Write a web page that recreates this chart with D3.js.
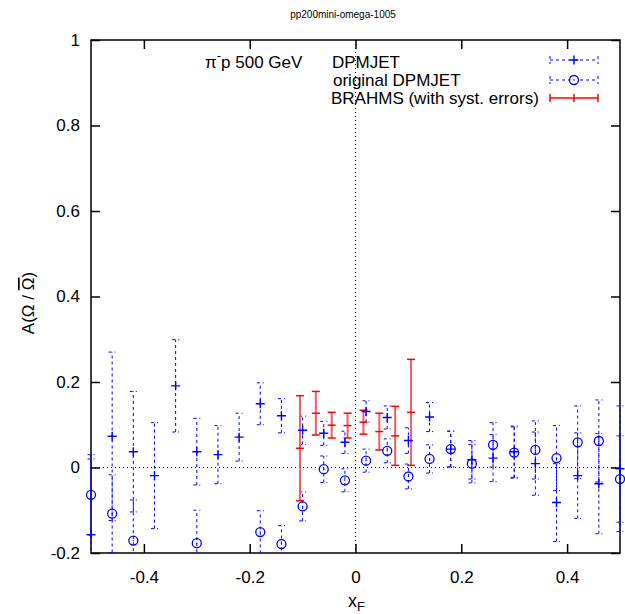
<!DOCTYPE html>
<meta charset="utf-8">
<style>

body { margin: 0; background: #fff; }
svg { font-family: "Liberation Sans", Arial, sans-serif; }

.frame {
  fill: none;
  stroke: #000;
  stroke-width: 1.5px;
}

.zero {
  stroke: #000;
  stroke-width: 1px;
  stroke-dasharray: 1,3;
}

.tick line { stroke: #000; stroke-width: 1.5px; }
.tick text { font-size: 17px; fill: #000; }

.bar-blue {
  stroke: #0000ff;
  stroke-width: 1px;
  stroke-dasharray: 3,3;
  fill: none;
}

.bar-red { stroke: #f06060; stroke-width: 2px; }
.cap-red { stroke: #ff0000; stroke-width: 1.5px; }

</style>
<svg width="625" height="614"></svg>
<script src="https://d3js.org/d3.v7.min.js"></script>
<script>

// DPMJET (crosses)
var dpmX = [-0.50, -0.46, -0.42, -0.38, -0.34, -0.30, -0.26, -0.22, -0.18, -0.14, -0.10, -0.06, -0.02,
            0.02, 0.06, 0.10, 0.14, 0.18, 0.22, 0.26, 0.30, 0.34, 0.38, 0.42, 0.46, 0.50];
var dpmY = [-0.157, 0.073, 0.037, -0.019, 0.191, 0.037, 0.030, 0.071, 0.149, 0.121, 0.087, 0.080, 0.059,
            0.131, 0.117, 0.063, 0.118, 0.043, 0.018, 0.022, 0.037, 0.009, -0.082, -0.019, -0.038, -0.003];
var dpmErr = [0.177, 0.197, 0.141, 0.124, 0.108, 0.078, 0.068, 0.056, 0.049, 0.040, 0.033, 0.028, 0.026,
              0.025, 0.027, 0.030, 0.034, 0.042, 0.045, 0.055, 0.060, 0.074, 0.091, 0.100, 0.117, 0.147];

// original DPMJET (circles)
var origX = [-0.50, -0.46, -0.42, -0.30, -0.18, -0.14, -0.10, -0.06, -0.02,
             0.02, 0.06, 0.10, 0.14, 0.18, 0.22, 0.26, 0.30, 0.34, 0.38, 0.42, 0.46, 0.50];
var origY = [-0.064, -0.108, -0.171, -0.177, -0.151, -0.179, -0.091, -0.004, -0.030,
             0.016, 0.039, -0.021, 0.020, 0.043, 0.009, 0.053, 0.035, 0.041, 0.022, 0.059, 0.062, -0.027];
var origErr = [0.094, 0.091, 0.095, 0.077, 0.050, 0.043, 0.034, 0.031, 0.027,
               0.027, 0.028, 0.029, 0.033, 0.042, 0.045, 0.052, 0.060, 0.068, 0.076, 0.085, 0.096, 0.101];

// BRAHMS (with syst. errors)
var brX = [-0.105, -0.075, -0.045, -0.015, 0.015, 0.045, 0.075, 0.105];
var brY = [0.045, 0.127, 0.099, 0.098, 0.106, 0.084, 0.074, 0.129];
var brErr = [0.123, 0.051, 0.030, 0.029, 0.028, 0.043, 0.069, 0.124];

var xTicks = [-0.4, -0.2, 0, 0.2, 0.4];
var yTicks = [-0.2, 0, 0.2, 0.4, 0.6, 0.8, 1];

var svg = d3.select("svg"),
    pLeft = 91, pRight = 620, pTop = 40, pBottom = 553;

var x = d3.scaleLinear().domain([-0.5, 0.5]).range([pLeft, pRight]);
var y = d3.scaleLinear().domain([-0.2, 1]).range([pBottom, pTop]);

var fmt = function(d) { return String(+d.toFixed(1)); };

svg.append("defs").append("clipPath").attr("id", "clip")
  .append("rect").attr("x", 0).attr("y", pTop).attr("width", 625).attr("height", pBottom - pTop);

// zero lines
svg.append("line").attr("class", "zero")
  .attr("x1", pLeft).attr("x2", pRight).attr("y1", y(0)).attr("y2", y(0));
svg.append("line").attr("class", "zero")
  .attr("x1", x(0)).attr("x2", x(0)).attr("y1", pTop).attr("y2", pBottom);

// axes, ticks pointing inward
svg.append("g").attr("transform", "translate(0," + pBottom + ")")
  .call(d3.axisBottom(x).tickValues(xTicks).tickSize(-9).tickPadding(18).tickFormat(fmt))
  .call(function(g) { g.select(".domain").remove(); });
svg.append("g").attr("transform", "translate(0," + pTop + ")")
  .call(d3.axisTop(x).tickValues(xTicks).tickSize(-9).tickFormat(""))
  .call(function(g) { g.select(".domain").remove(); });
svg.append("g").attr("transform", "translate(" + pLeft + ",0)")
  .call(d3.axisLeft(y).tickValues(yTicks).tickSize(-9).tickPadding(11).tickFormat(fmt))
  .call(function(g) { g.select(".domain").remove(); });
svg.append("g").attr("transform", "translate(" + pRight + ",0)")
  .call(d3.axisRight(y).tickValues(yTicks).tickSize(-9).tickFormat(""))
  .call(function(g) { g.select(".domain").remove(); });

svg.selectAll("g[font-family]").attr("font-family", null).attr("font-size", null);

svg.append("rect").attr("class", "frame")
  .attr("x", pLeft).attr("y", pTop).attr("width", pRight - pLeft).attr("height", pBottom - pTop);

// error bars helper
function errBars(g, xs, ys, es, cls, capCls, cw) {
  var d = xs.map(function(v, i) { return {x: v, y: ys[i], e: es[i]}; });
  var b = g.selectAll(null).data(d).enter().append("g");
  b.append("line").attr("class", cls)
    .attr("x1", function(d) { return x(d.x); }).attr("x2", function(d) { return x(d.x); })
    .attr("y1", function(d) { return y(d.y - d.e); }).attr("y2", function(d) { return y(d.y + d.e); });
  [-1, 1].forEach(function(s) {
    b.append("line").attr("class", capCls)
      .attr("x1", function(d) { return x(d.x) - cw; }).attr("x2", function(d) { return x(d.x) + cw; })
      .attr("y1", function(d) { return y(d.y + s * d.e); }).attr("y2", function(d) { return y(d.y + s * d.e); });
  });
  return d;
}

var bars = svg.append("g").attr("clip-path", "url(#clip)");
var dpm = errBars(bars, dpmX, dpmY, dpmErr, "bar-blue", "bar-blue", 3.5);
var orig = errBars(bars, origX, origY, origErr, "bar-blue", "bar-blue", 3.5);
var br = errBars(bars, brX, brY, brErr, "bar-red", "cap-red", 4);

var cross = "M-4.5,0H4.5M0,-4.5V4.5";

svg.selectAll(".dpm").data(dpm).enter().append("path")
  .attr("class", "dpm")
  .attr("d", cross)
  .attr("transform", function(d) { return "translate(" + x(d.x) + "," + y(d.y) + ")"; })
  .attr("stroke", "#0000ff").attr("stroke-width", 1.4).attr("fill", "none");

var oc = svg.selectAll(".orig").data(orig).enter().append("g")
  .attr("class", "orig")
  .attr("transform", function(d) { return "translate(" + x(d.x) + "," + y(d.y) + ")"; });
oc.append("circle").attr("r", 4.5).attr("fill", "none").attr("stroke", "#0000ff").attr("stroke-width", 1.3);
oc.append("circle").attr("r", 0.7).attr("fill", "#0000ff");

svg.selectAll(".br").data(br).enter().append("path")
  .attr("class", "br")
  .attr("d", "M-4,0H4")
  .attr("transform", function(d) { return "translate(" + x(d.x) + "," + y(d.y) + ")"; })
  .attr("stroke", "#ff0000").attr("stroke-width", 1.5);

// title
svg.append("text").attr("x", 343).attr("y", 18).attr("text-anchor", "middle")
  .attr("font-size", 10).text("pp200mini-omega-1005");

// axis labels
var xl = svg.append("text").attr("x", 348).attr("y", 607).attr("font-size", 18);
xl.append("tspan").text("x");
xl.append("tspan").attr("font-size", 13).attr("dy", 4).text("F");

var yl = svg.append("text").attr("transform", "translate(34,303) rotate(-90)")
  .attr("text-anchor", "middle").attr("font-size", 17);
yl.append("tspan").text("A(Ω / ");
yl.append("tspan").attr("text-decoration", "overline").text("Ω");
yl.append("tspan").text(")");

// legend
var pi = svg.append("text").attr("x", 205).attr("y", 68).attr("font-size", 17);
pi.append("tspan").text("π");
pi.append("tspan").attr("dy", -8).attr("font-size", 13).text("-");
pi.append("tspan").attr("dy", 8).text("p 500 GeV");

var legend = [
  {label: "DPMJET", tx: 332, ty: 68, ly: 60, kind: "cross"},
  {label: "original DPMJET", tx: 333, ty: 86, ly: 80, kind: "circle"},
  {label: "BRAHMS (with syst. errors)", tx: 331, ty: 104, ly: 98, kind: "red"}
];

legend.forEach(function(l) {
  svg.append("text").attr("x", l.tx).attr("y", l.ty).attr("font-size", 17).text(l.label);
  var g = svg.append("g");
  var lineCls = l.kind === "red" ? "cap-red" : "bar-blue";
  g.append("line").attr("class", lineCls).attr("x1", 550).attr("x2", 598).attr("y1", l.ly).attr("y2", l.ly);
  [550, 598].forEach(function(cx) {
    g.append("line").attr("class", lineCls).attr("x1", cx).attr("x2", cx).attr("y1", l.ly - 4).attr("y2", l.ly + 4);
  });
  if (l.kind === "cross") {
    g.append("path").attr("d", cross).attr("transform", "translate(574," + l.ly + ")")
      .attr("stroke", "#0000ff").attr("stroke-width", 1.4);
  } else if (l.kind === "circle") {
    g.append("circle").attr("cx", 574).attr("cy", l.ly).attr("r", 4.5)
      .attr("fill", "#fff").attr("stroke", "#0000ff").attr("stroke-width", 1.3);
    g.append("circle").attr("cx", 574).attr("cy", l.ly).attr("r", 0.7).attr("fill", "#0000ff");
  } else {
    g.append("path").attr("d", "M0,-4V4").attr("transform", "translate(574," + l.ly + ")")
      .attr("stroke", "#ff0000").attr("stroke-width", 1.5);
  }
});

</script>
